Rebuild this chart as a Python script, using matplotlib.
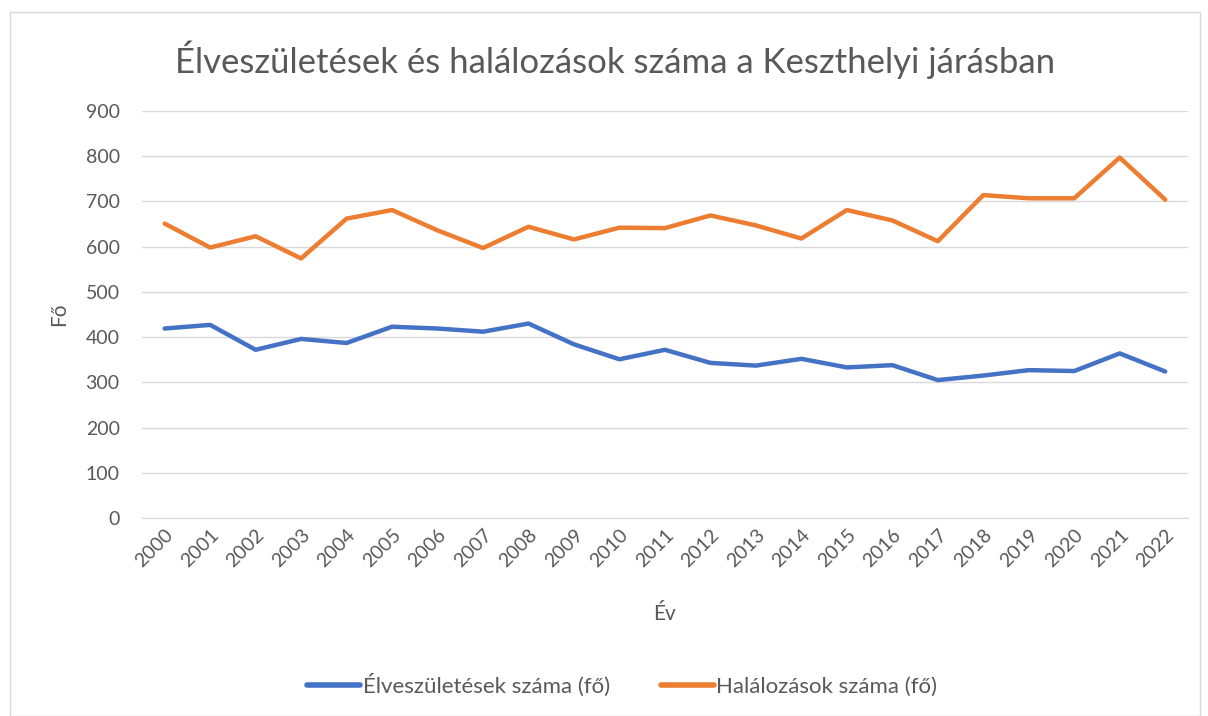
import matplotlib
matplotlib.use("Agg")
import matplotlib.pyplot as plt
from matplotlib.patches import Rectangle

plt.rcParams["font.family"] = ["Lato", "DejaVu Sans"]

years = [str(y) for y in range(2000, 2023)]
births = [419, 427, 372, 396, 387, 423, 419, 412, 430, 384, 351, 372,
          343, 337, 352, 333, 338, 305, 315, 327, 325, 364, 324]
deaths = [651, 598, 623, 574, 662, 681, 636, 597, 644, 616, 642, 641,
          669, 647, 618, 681, 658, 612, 714, 707, 707, 797, 704]

TEXT = "#595959"
GRID = "#D9D9D9"

fig = plt.figure(figsize=(12.08, 7.16), dpi=100)
ax = fig.add_axes([0.1175, 0.2765, 0.8659, 0.5685])

x = range(len(years))
ax.plot(x, births, color="#4472C4", linewidth=3.2, solid_capstyle="round",
        solid_joinstyle="round", label="Élveszületések száma (fő)")
ax.plot(x, deaths, color="#ED7D31", linewidth=3.2, solid_capstyle="round",
        solid_joinstyle="round", label="Halálozások száma (fő)")

ax.set_xlim(-0.5, len(years) - 0.5)
ax.set_ylim(0, 900)
ax.set_yticks(range(0, 901, 100))
ax.set_xticks(list(x))
ax.set_xticklabels(years, rotation=45, ha="right", rotation_mode="anchor")
ax.tick_params(axis="both", length=0, labelsize=14, labelcolor=TEXT)
ax.tick_params(axis="y", pad=16)
ax.tick_params(axis="x", pad=6)
ax.grid(axis="y", color=GRID, linewidth=1)
ax.set_axisbelow(True)
for s in ["top", "right", "left"]:
    ax.spines[s].set_visible(False)
ax.spines["bottom"].set_color(GRID)

ax.set_xlabel("Év", fontsize=15, color=TEXT, labelpad=24)
ax.set_ylabel("Fő", fontsize=15, color=TEXT, labelpad=12)
fig.text(0.509, 0.917, "Élveszületések és halálozások száma a Keszthelyi járásban",
         ha="center", va="center", fontsize=25, color=TEXT)

leg = fig.legend(loc="center", bbox_to_anchor=(0.515, 0.043), ncol=2, frameon=False,
                 fontsize=16, labelcolor=TEXT, handlelength=2.4,
                 handletextpad=0.1, columnspacing=2.3)
for h in leg.get_lines():
    h.set_linewidth(4)

fig.patches.append(Rectangle((10 / 1208, 0), 1190 / 1208, 1 - 12 / 716,
                             transform=fig.transFigure, fill=False,
                             edgecolor=GRID, linewidth=1))

fig.savefig("out.png", dpi=100, facecolor="white")
